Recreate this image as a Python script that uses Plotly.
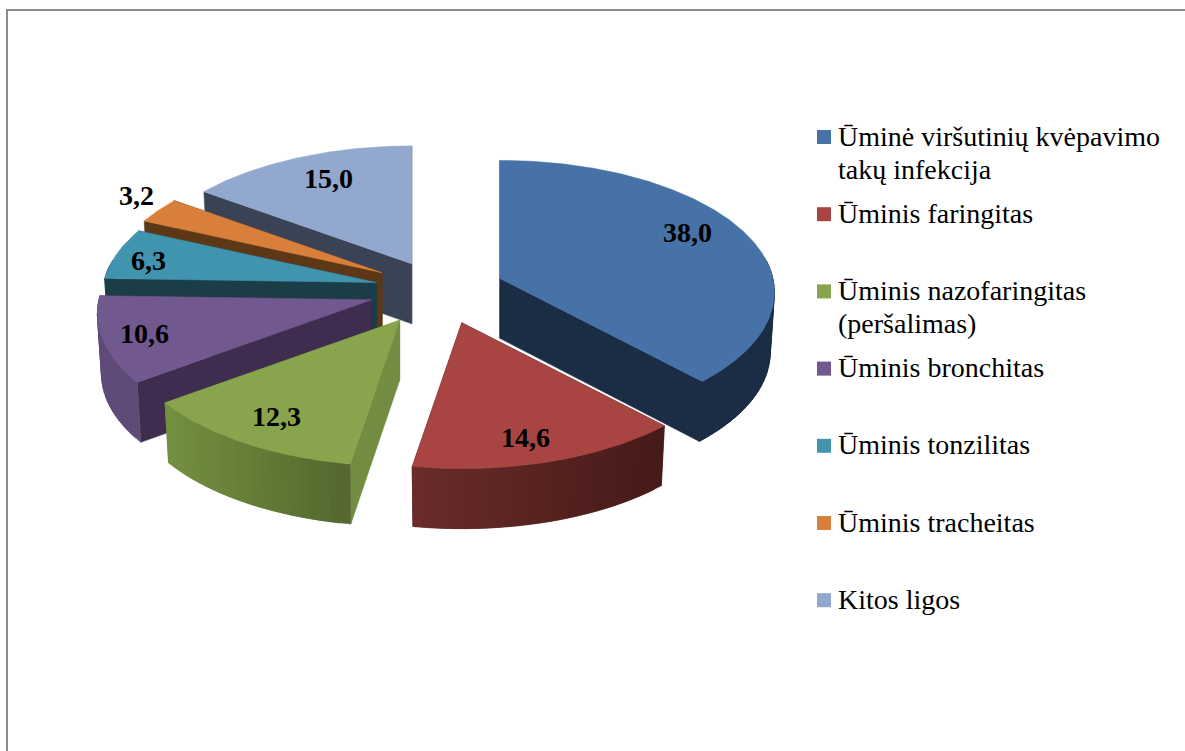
import math
import plotly.graph_objects as go

# ---- data ----
categories = ["Ūminė viršutinių kvėpavimo<br>takų infekcija", "Ūminis faringitas",
              "Ūminis nazofaringitas<br>(peršalimas)", "Ūminis bronchitas",
              "Ūminis tonzilitas", "Ūminis tracheitas", "Kitos ligos"]
values = [38.0, 14.6, 12.3, 10.6, 6.3, 3.2, 15.0]
value_labels = ["38,0", "14,6", "12,3", "10,6", "6,3", "3,2", "15,0"]

# ---- style ----
top_colors = ["#4672A7", "#A84442", "#88A44C", "#71588E", "#4194AD", "#D8803B", "#92A8CF"]
cut_colors = ["#1A2D45", "#451A18", "#728C42", "#3E2D4F", "#1A3D48", "#5D3817", "#3A4356"]
wall_left = ["#1A2D45", "#6A2C2A", "#739040", "#5F4A78", "#1A3D48", "#5D3817", "#3A4356"]
wall_right = ["#1A2D45", "#451A18", "#53672E", "#5F4A78", "#1A3D48", "#5D3817", "#3A4356"]
explode = [73, 75, 58, 63, 60, 60, 60]
nudge_x = [0, 8, -2, 0, 3, 2, 7]
nudge_y = [-1, -3, 5, -1, -3, -5, -3]
label_frac = [0.80, 0.83, 0.80, 0.85, 0.87, 1.15, 0.78]
label_turn = [-5.4, 2, 0, 0, -1.5, 3, 2]
draw_order = [6, 5, 4, 3, 2, 0, 1]

W, H = 1185, 751
CX, CY = 432, 292
RX, RY, K = 273, 130.5, 0.106
DEPTH, SHRINK = 60, 0.985
EXP_Y = 0.47
FONT = "Liberation Serif"


def project(frac, deg):
    t = math.radians(deg)
    u, v = frac * math.sin(t), -frac * math.cos(t)
    p = 1 / (1 - K * v)
    return RX * u * p, RY * v * p


def mix(a, b, f):
    ca = [int(a[i:i + 2], 16) for i in (1, 3, 5)]
    cb = [int(b[i:i + 2], 16) for i in (1, 3, 5)]
    return "#%02x%02x%02x" % tuple(round(x + (y - x) * f) for x, y in zip(ca, cb))


def poly(fig, pts, color):
    fig.add_trace(go.Scatter(x=[p[0] for p in pts] + [pts[0][0]],
                             y=[p[1] for p in pts] + [pts[0][1]],
                             mode="lines", fill="toself", fillcolor=color,
                             line=dict(color=color, width=0.5), hoverinfo="skip",
                             showlegend=False))


fig = go.Figure()
total = sum(values)
starts, a = [], 0.0
for val in values:
    starts.append(a)
    a += val / total * 360


def apex(i):
    mid = math.radians(starts[i] + values[i] / total * 180)
    return (CX + explode[i] * math.sin(mid) + nudge_x[i],
            CY - explode[i] * math.cos(mid) * EXP_Y + nudge_y[i])


for i in draw_order:
    a0 = starts[i]
    a1 = a0 + values[i] / total * 360
    ax, ay = apex(i)

    def top(f, d):
        dx, dy = project(f, d)
        return ax + dx, ay + dy

    def bot(f, d):
        dx, dy = project(f, d)
        return ax + dx * SHRINK, ay + dy + DEPTH

    # radial cut faces
    for d in (a1, a0):
        poly(fig, [top(0, d), top(1, d), bot(1, d), bot(0, d)], cut_colors[i])
    # outer curved wall as overlapping shaded strips, front half only
    n = max(6, int((a1 - a0) / 2))
    steps = [a0 + (a1 - a0) * j / n for j in range(n + 1)]
    fine = [a0 + (a1 - a0) * j / (4 * n) for j in range(4 * n + 1)]
    xs = [top(1, d)[0] for d in steps]
    lo, hi = min(xs), max(xs)
    for j in range(n):
        d0, d1 = steps[j], steps[min(j + 2, n)]
        dmid = (steps[j] + steps[j + 1]) / 2
        if math.cos(math.radians(dmid)) < 0.15:
            f = (top(1, dmid)[0] - lo) / max(hi - lo, 1)
            span = [d for d in fine if d0 <= d <= d1]
            poly(fig, [top(1, d) for d in span] + [bot(1, d) for d in reversed(span)],
                 mix(wall_left[i], wall_right[i], f))
    # top face
    poly(fig, [top(0, a0)] + [top(1, d) for d in fine], top_colors[i])

annotations = []
for i, lab in enumerate(value_labels):
    ax, ay = apex(i)
    d = starts[i] + values[i] / total * 180 + label_turn[i]
    dx, dy = project(label_frac[i], d)
    annotations.append(dict(x=ax + dx, y=ay + dy,
                            text="<b>%s</b>" % lab, showarrow=False, xanchor="center", yanchor="middle",
                            font=dict(family=FONT, size=28, color="black")))

# legend built from the categories
LEG_X, LEG_Y, LEG_STEP, TXT_X, LINE_STEP = 824, 137, 77.2, 836, 33
fig.add_trace(go.Scatter(x=[LEG_X] * len(categories),
                         y=[LEG_Y + j * LEG_STEP for j in range(len(categories))],
                         mode="markers",
                         marker=dict(symbol="square", size=14, color=top_colors, line=dict(width=0)),
                         hoverinfo="skip", showlegend=False))
for j, name in enumerate(categories):
    for k, line in enumerate(name.split("<br>")):
        annotations.append(dict(x=TXT_X, y=LEG_Y - 1 + j * LEG_STEP + k * LINE_STEP, text=line, showarrow=False,
                                xanchor="left", yanchor="middle", align="left",
                                font=dict(family=FONT, size=28, color="black")))

fig.update_layout(
    width=W, height=H, margin=dict(l=0, r=0, t=0, b=0),
    paper_bgcolor="white", plot_bgcolor="white", showlegend=False,
    xaxis=dict(range=[0, W], visible=False, fixedrange=True),
    yaxis=dict(range=[H, 0], visible=False, fixedrange=True),
    annotations=annotations,
    shapes=[dict(type="path", path="M 7 %d L 7 10 L %d 10" % (H, W), xref="x", yref="y",
                 line=dict(color="#8C8C8C", width=2))],
)
fig.write_html("out.html", config={"displayModeBar": False},
               post_script="document.body.style.margin='0';document.body.style.overflow='hidden';")
